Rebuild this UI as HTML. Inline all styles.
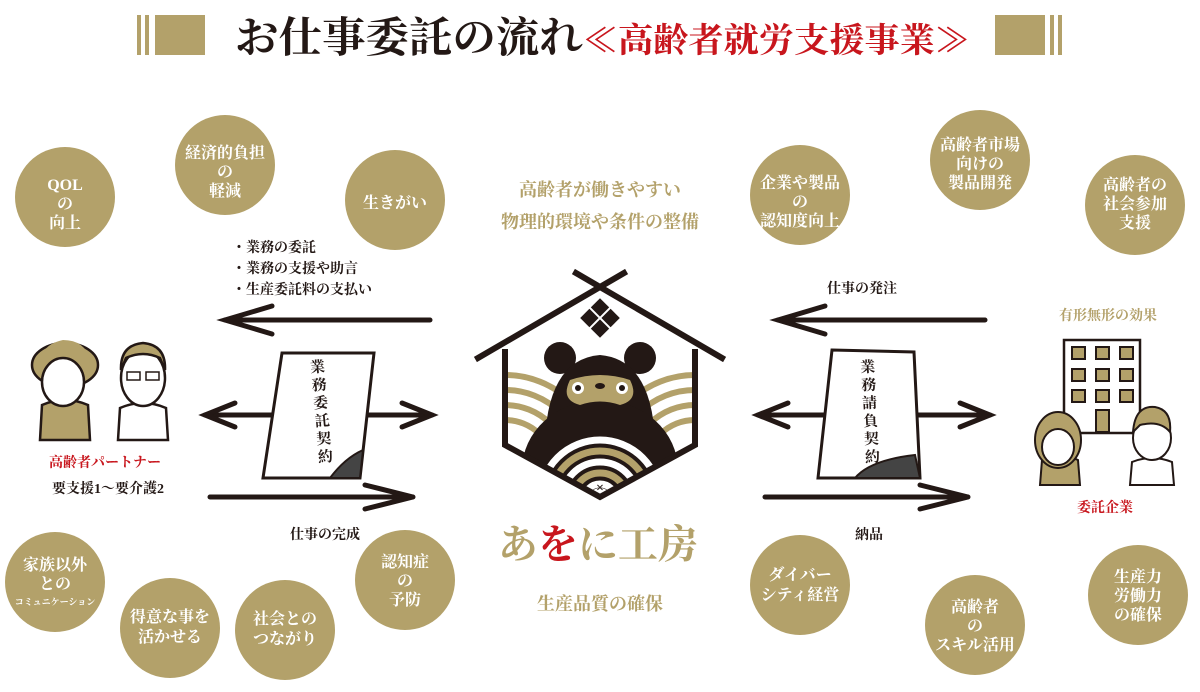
<!DOCTYPE html>
<html><head><meta charset="utf-8"><style>
body{margin:0;background:#fff;}
svg{display:block;}
text{font-family:"Liberation Serif","Noto Serif CJK SC",serif;}
.c{fill:#b3a16a;}
.ct{fill:#fff;font-size:16px;font-weight:bold;text-anchor:middle;}
.k{fill:#231815;font-size:14px;font-weight:bold;}
</style></head><body>
<svg width="1200" height="692" viewBox="0 0 1200 692" xmlns="http://www.w3.org/2000/svg">
<!-- title -->
<rect x="137" y="15" width="4" height="40" class="c"/><rect x="145" y="15" width="4" height="40" class="c"/><rect x="155" y="15" width="50" height="40" class="c"/>
<rect x="995" y="15" width="50" height="40" class="c"/><rect x="1050" y="15" width="4" height="40" class="c"/><rect x="1058" y="15" width="4" height="40" class="c"/>
<text x="235" y="52" font-size="42" font-weight="bold" fill="#231815" textLength="735" lengthAdjust="spacingAndGlyphs">お仕事委託の流れ<tspan fill="#c8161d" font-size="34">≪高齢者就労支援事業≫</tspan></text>

<!-- circles -->
<g>
<circle cx="65" cy="197" r="50" class="c"/><text class="ct" x="65" y="190">QOL<tspan x="65" dy="19">の</tspan><tspan x="65" dy="19">向上</tspan></text>
<circle cx="225" cy="165" r="50" class="c"/><text class="ct" x="225" y="158">経済的負担<tspan x="225" dy="19">の</tspan><tspan x="225" dy="19">軽減</tspan></text>
<circle cx="395" cy="200" r="50" class="c"/><text class="ct" x="395" y="208">生きがい</text>
<circle cx="55" cy="582" r="50" class="c"/><text class="ct" x="55" y="570">家族以外<tspan x="55" dy="19">との</tspan><tspan x="55" dy="16" font-size="9">コミュニケーション</tspan></text>
<circle cx="170" cy="628" r="50" class="c"/><text class="ct" x="170" y="622">得意な事を<tspan x="170" dy="20">活かせる</tspan></text>
<circle cx="285" cy="630" r="50" class="c"/><text class="ct" x="285" y="624">社会との<tspan x="285" dy="20">つながり</tspan></text>
<circle cx="405" cy="580" r="50" class="c"/><text class="ct" x="405" y="567">認知症<tspan x="405" dy="19">の</tspan><tspan x="405" dy="19">予防</tspan></text>
<circle cx="800" cy="195" r="50" class="c"/><text class="ct" x="800" y="188">企業や製品<tspan x="800" dy="19">の</tspan><tspan x="800" dy="19">認知度向上</tspan></text>
<circle cx="980" cy="160" r="50" class="c"/><text class="ct" x="980" y="150">高齢者市場<tspan x="980" dy="19">向けの</tspan><tspan x="980" dy="19">製品開発</tspan></text>
<circle cx="1135" cy="205" r="50" class="c"/><text class="ct" x="1135" y="190">高齢者の<tspan x="1135" dy="19">社会参加</tspan><tspan x="1135" dy="19">支援</tspan></text>
<circle cx="800" cy="585" r="50" class="c"/><text class="ct" x="800" y="580">ダイバー<tspan x="800" dy="20">シティ経営</tspan></text>
<circle cx="975" cy="625" r="50" class="c"/><text class="ct" x="975" y="612">高齢者<tspan x="975" dy="19">の</tspan><tspan x="975" dy="19">スキル活用</tspan></text>
<circle cx="1138" cy="595" r="50" class="c"/><text class="ct" x="1138" y="582">生産力<tspan x="1138" dy="19">労働力</tspan><tspan x="1138" dy="19">の確保</tspan></text>
</g>

<!-- center gold texts -->
<text x="600" y="196" font-size="18" font-weight="bold" fill="#b3a16a" text-anchor="middle">高齢者が働きやすい</text>
<text x="600" y="228" font-size="18" font-weight="bold" fill="#b3a16a" text-anchor="middle">物理的環境や条件の整備</text>
<text x="600" y="610" font-size="18" font-weight="bold" fill="#b3a16a" text-anchor="middle">生産品質の確保</text>
<text x="1108" y="320" font-size="14" font-weight="bold" fill="#b3a16a" text-anchor="middle">有形無形の効果</text>
<text x="598" y="558" font-size="40" font-weight="bold" fill="#b3a16a" text-anchor="middle">あ<tspan fill="#c8161d">を</tspan>に工房</text>

<!-- labels -->
<text class="k" x="232" y="252">・業務の委託</text>
<text class="k" x="232" y="273">・業務の支援や助言</text>
<text class="k" x="232" y="294">・生産委託料の支払い</text>
<text class="k" x="827" y="293">仕事の発注</text>
<text class="k" x="290" y="539">仕事の完成</text>
<text class="k" x="855" y="539">納品</text>
<text x="105" y="467" font-size="14" font-weight="bold" fill="#c8161d" text-anchor="middle">高齢者パートナー</text>
<text x="108" y="493" font-size="14" font-weight="bold" fill="#231815" text-anchor="middle">要支援1～要介護2</text>
<text x="1105" y="512" font-size="14" font-weight="bold" fill="#c8161d" text-anchor="middle">委託企業</text>

<!-- arrows -->
<g stroke="#231815" stroke-width="5" fill="none" stroke-linecap="round">
<line x1="430" y1="320" x2="225" y2="320"/><polyline points="272,306 225,320 272,334"/>
<line x1="205" y1="415" x2="432" y2="415"/><polyline points="235,403 205,415 235,427"/><polyline points="402,403 432,415 402,427"/>
<line x1="210" y1="497" x2="413" y2="497"/><polyline points="365,485 413,497 365,509"/>
<line x1="985" y1="320" x2="778" y2="320"/><polyline points="825,306 778,320 825,334"/>
<line x1="758" y1="415" x2="990" y2="415"/><polyline points="788,403 758,415 788,427"/><polyline points="960,403 990,415 960,427"/>
<line x1="765" y1="497" x2="968" y2="497"/><polyline points="920,485 968,497 920,509"/>
</g>

<!-- documents -->
<g stroke="#231815" stroke-width="3" fill="#fff">
<path d="M282 353 L374 353 L360 478 L330 478 L263 478 Z"/>
<path d="M832 350 L914 352 L920 478 L855 478 L818 478 Z"/>
</g>
<path d="M330 478 L360 478 L363 450 Q345 458 330 478Z" fill="#444" stroke="#231815" stroke-width="2"/>
<path d="M855 478 L920 478 L915 455 Q870 460 855 478Z" fill="#444" stroke="#231815" stroke-width="2"/>
<text font-size="15" font-weight="bold" fill="#231815" text-anchor="middle" transform="translate(318,372) rotate(-5)"><tspan x="0" dy="0">業</tspan><tspan x="0" dy="18">務</tspan><tspan x="0" dy="18">委</tspan><tspan x="0" dy="18">託</tspan><tspan x="0" dy="18">契</tspan><tspan x="0" dy="18">約</tspan></text>
<text font-size="15" font-weight="bold" fill="#231815" text-anchor="middle" transform="translate(868,372) rotate(-3)"><tspan x="0" dy="0">業</tspan><tspan x="0" dy="18">務</tspan><tspan x="0" dy="18">請</tspan><tspan x="0" dy="18">負</tspan><tspan x="0" dy="18">契</tspan><tspan x="0" dy="18">約</tspan></text>

<!-- logo -->
<defs><clipPath id="hx"><path d="M505 350 L600 300 L695 350 L695 445 L600 497 L505 445 Z"/></clipPath></defs>
<g clip-path="url(#hx)">
<g fill="none" stroke="#b3a16a" stroke-width="6">
<circle cx="505" cy="470" r="95"/><circle cx="505" cy="470" r="80"/><circle cx="505" cy="470" r="65"/><circle cx="505" cy="470" r="50"/>
<circle cx="695" cy="470" r="95"/><circle cx="695" cy="470" r="80"/><circle cx="695" cy="470" r="65"/><circle cx="695" cy="470" r="50"/>
</g>
<circle cx="560" cy="358" r="16" fill="#231815"/><circle cx="640" cy="358" r="16" fill="#231815"/>
<path d="M545 470 Q540 360 600 355 Q660 360 655 470 Z" fill="#231815"/>
<ellipse cx="600" cy="470" rx="78" ry="70" fill="#231815"/>
<path d="M570 380 Q600 370 630 380 Q640 400 620 405 Q600 398 580 405 Q560 400 570 380Z" fill="#b3a16a"/>
<circle cx="578" cy="388" r="6" fill="#fff"/><circle cx="578" cy="388" r="3" fill="#231815"/>
<circle cx="622" cy="388" r="6" fill="#fff"/><circle cx="622" cy="388" r="3" fill="#231815"/>
<ellipse cx="600" cy="386" rx="5" ry="3" fill="#231815"/>
<g fill="none" stroke="#fff" stroke-width="7"><circle cx="600" cy="500" r="60"/><circle cx="600" cy="500" r="38"/><circle cx="600" cy="500" r="16"/></g>
<g fill="none" stroke="#b3a16a" stroke-width="7"><circle cx="600" cy="500" r="49"/><circle cx="600" cy="500" r="27"/></g>
<circle cx="600" cy="500" r="12" fill="#fff"/>
<text x="600" y="492" font-size="14" font-weight="bold" fill="#231815" text-anchor="middle">×</text>
</g>
<g stroke="#231815" stroke-width="6" fill="none" stroke-linecap="square">
<path d="M505 352 L505 445 L600 497 L695 445 L695 352"/>
<line x1="478" y1="358" x2="624" y2="273"/><line x1="722" y1="358" x2="576" y2="273"/>
</g>
<g fill="#231815" transform="translate(600,318) rotate(45)">
<rect x="-14" y="-14" width="13" height="13"/><rect x="1" y="-14" width="13" height="13"/><rect x="-14" y="1" width="13" height="13"/><rect x="1" y="1" width="13" height="13"/>
</g>

<!-- elderly people -->
<g stroke="#231815" stroke-width="2.5">
<path d="M40 440 L42 405 Q65 395 88 405 L90 440 Z" fill="#b3a16a"/>
<ellipse cx="65" cy="365" rx="33" ry="22" fill="#b3a16a"/>
<ellipse cx="63" cy="382" rx="21" ry="24" fill="#fff"/>
<path d="M40 370 Q50 350 70 352 Q88 360 88 372 L90 360 Q85 340 63 340 Q38 345 40 370Z" fill="#b3a16a" stroke="none"/>
<path d="M118 440 L120 408 Q143 398 166 408 L168 440 Z" fill="#fff"/>
<ellipse cx="143" cy="378" rx="22" ry="28" fill="#fff"/>
<path d="M121 370 Q120 345 143 343 Q166 345 165 370 L160 358 Q143 350 126 358Z" fill="#b3a16a"/>
<rect x="127" y="372" width="13" height="8" fill="none" stroke-width="1.5"/><rect x="146" y="372" width="13" height="8" fill="none" stroke-width="1.5"/>
</g>
<!-- building + company people -->
<g stroke="#231815" stroke-width="2.5">
<rect x="1064" y="340" width="76" height="93" fill="#fff"/>
</g>
<g fill="#b3a16a" stroke="#231815" stroke-width="2">
<rect x="1072" y="347" width="13" height="12"/><rect x="1096" y="347" width="13" height="12"/><rect x="1120" y="347" width="13" height="12"/>
<rect x="1072" y="369" width="13" height="12"/><rect x="1096" y="369" width="13" height="12"/><rect x="1120" y="369" width="13" height="12"/>
<rect x="1072" y="390" width="13" height="12"/><rect x="1096" y="390" width="13" height="12"/><rect x="1120" y="390" width="13" height="12"/>
<rect x="1096" y="410" width="13" height="22"/>
<path d="M1040 485 L1042 460 Q1060 452 1078 460 L1080 485Z"/>
<ellipse cx="1058" cy="440" rx="23" ry="28"/>
</g>
<g stroke="#231815" stroke-width="2" fill="#fff">
<ellipse cx="1058" cy="447" rx="16" ry="18"/>
<path d="M1130 485 L1132 462 Q1152 454 1172 462 L1174 485Z"/>
<ellipse cx="1152" cy="438" rx="19" ry="22"/>
</g>
<path d="M1133 432 Q1135 405 1155 407 Q1172 410 1170 432 Q1160 420 1140 425Z" fill="#b3a16a" stroke="#231815" stroke-width="2"/>
</svg>
</body></html>
